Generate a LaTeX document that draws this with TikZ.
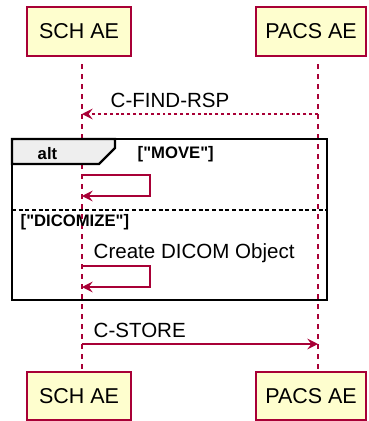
\documentclass[tikz,border=0pt]{standalone}
\usepackage{fontspec}
\setmainfont{Liberation Sans}
\usepackage{tikz}
\usetikzlibrary{arrows.meta}
\definecolor{umlred}{HTML}{A80036}
\definecolor{umlfill}{HTML}{FEFECE}
\definecolor{tabgray}{HTML}{EEEEEE}

\begin{document}
\begin{tikzpicture}[x=0.75pt, y=-0.75pt, line width=1.1pt,
    actor/.style={draw=umlred, fill=umlfill, line width=1.6pt, minimum height=36.5pt, inner sep=0pt,
      font=\fontsize{16.1}{18}\selectfont},
    lifeline/.style={draw=umlred, dash pattern=on 3.75pt off 3.75pt, line width=1.1pt},
    msg/.style={draw=umlred, line width=1.1pt, -{Stealth[length=8pt, width=8pt, inset=3pt]}},
    label/.style={font=\fontsize{15.4}{17}\selectfont, anchor=base west, inner sep=0pt},
    guard/.style={font=\bfseries\fontsize{12.5}{14}\selectfont, anchor=base west, inner sep=0pt}]
    \useasboundingbox (0, 0) rectangle (368, 421);

    % draw participants
    \node[actor, minimum width=78pt] (sch top) at (79, 31.5) {SCH AE};
    \node[actor, minimum width=82pt] (pacs top) at (311, 31.5) {PACS AE};
    \node[actor, minimum width=78pt] (sch bot) at (79, 396) {SCH AE};
    \node[actor, minimum width=82pt] (pacs bot) at (311, 396) {PACS AE};

    % draw lifelines
    \coordinate (sch a) at (82, 64);
    \coordinate (sch b) at (82, 370);
    \coordinate (pacs a) at (318, 64);
    \coordinate (pacs b) at (318, 370);
    \draw[lifeline] (sch a) -- (sch b);
    \draw[lifeline] (pacs a) -- (pacs b);

    % draw C-FIND-RSP
    \coordinate (find s) at (318, 114);
    \coordinate (find e) at (82, 114);
    \draw[msg, dash pattern=on 2.2pt off 2.2pt] (find s) -- (find e);
    \node[label] (find lbl) at (110, 107) {C-FIND-RSP};

    % draw alt frame
    \draw[line width=2.2pt] (12, 139) rectangle (327, 300);
    \filldraw[fill=tabgray, line width=1.6pt]
      (12, 139) -- (115, 139) -- (115, 148) -- (99, 164) -- (12, 164) -- cycle;
    \node[guard] (alt) at (37, 159) {alt};
    \node[guard] (move) at (137, 158) {[\textquotedbl MOVE\textquotedbl]};
    \draw[densely dashed, line width=0.8pt] (12, 210) -- (327, 210);
    \node[guard] (dicomize) at (20, 226) {[\textquotedbl DICOMIZE\textquotedbl]};

    % draw self messages
    \coordinate (self1 s) at (82, 175);
    \coordinate (self1 e) at (82, 196);
    \draw[msg] (self1 s) -- (150, 175) -- (150, 196) -- (self1 e);
    \node[label] (create) at (93, 258) {Create DICOM Object};
    \coordinate (self2 s) at (82, 266);
    \coordinate (self2 e) at (82, 287);
    \draw[msg] (self2 s) -- (150, 266) -- (150, 287) -- (self2 e);

    % draw C-STORE
    \coordinate (store s) at (82, 344);
    \coordinate (store e) at (318, 344);
    \draw[msg] (store s) -- (store e);
    \node[label] (store lbl) at (93, 337) {C-STORE};

\end{tikzpicture}
\end{document}
